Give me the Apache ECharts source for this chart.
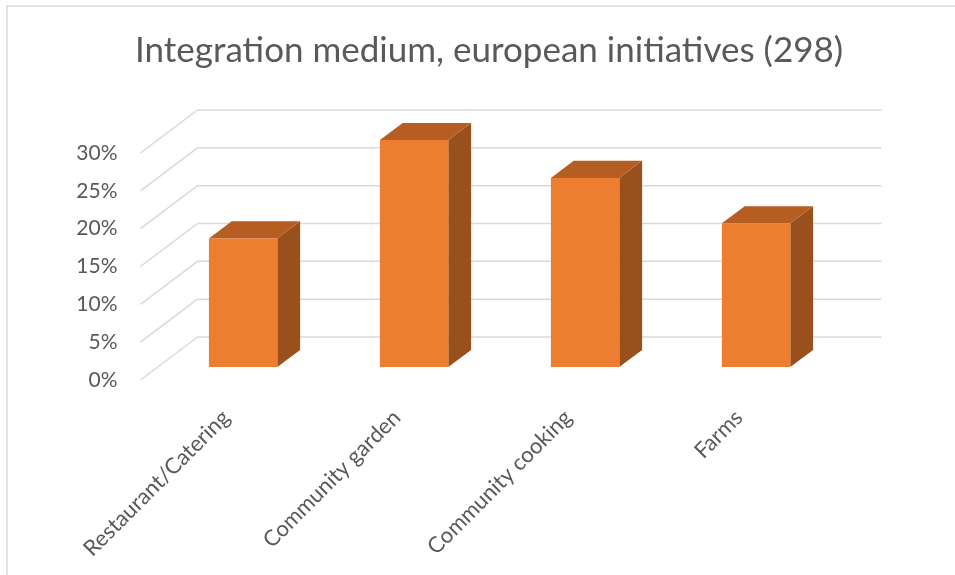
<!DOCTYPE html>
<html><head><meta charset="utf-8">
<script src="https://cdn.jsdelivr.net/npm/echarts@6.0.0/dist/echarts.min.js"></script>
<style>html,body{margin:0;padding:0;background:#fff}#c{width:955px;height:575px}</style>
</head><body><div id="c"></div>
<script>
const titleText = 'Integration medium, european initiatives (298)';
const categories = ['Restaurant/Catering', 'Community garden', 'Community cooking', 'Farms'];
const values = [0.17, 0.30, 0.25, 0.19];
const yTicks = [0, 0.05, 0.10, 0.15, 0.20, 0.25, 0.30];

// oblique projection of depth (back wall offset)
const DX = 57, DY = -43;
const BAR_FRONT = 0.3, BAR_BACK = 0.7, BAR_W = 0.4;
const GRID_COLOR = '#D9D9D9';
const FONT = 'Lato, "Open Sans", sans-serif';

function renderGrid(params, api) {
  const v = api.value(1);
  const p = api.coord([0, v]);
  const band = api.size([1, 0])[0];
  const x0 = p[0] - band / 2;
  const x1 = x0 + band * categories.length;
  const y = p[1];
  return {
    type: 'group',
    children: [
      { type: 'line', shape: { x1: x0, y1: y, x2: x0 + DX, y2: y + DY }, style: { stroke: GRID_COLOR, lineWidth: 1.5 } },
      { type: 'line', shape: { x1: x0 + DX, y1: y + DY, x2: x1 + DX, y2: y + DY }, style: { stroke: GRID_COLOR, lineWidth: 1.5 } }
    ]
  };
}

function renderBar(params, api) {
  const i = api.value(0), v = api.value(1);
  const top = api.coord([i, v]);
  const base = api.coord([i, 0]);
  const band = api.size([1, 0])[0];
  const w = band * BAR_W;
  const xl = top[0] - w / 2, xr = top[0] + w / 2;
  const fx = BAR_FRONT * DX, fy = BAR_FRONT * DY;
  const bx = BAR_BACK * DX, by = BAR_BACK * DY;
  const yt = top[1], yb = base[1];
  return {
    type: 'group',
    children: [
      { type: 'polygon', shape: { points: [[xr + fx, yt + fy], [xr + bx, yt + by], [xr + bx, yb + by], [xr + fx, yb + fy]] }, style: { fill: '#9A501D' } },
      { type: 'polygon', shape: { points: [[xl + fx, yt + fy], [xr + fx, yt + fy], [xr + bx, yt + by], [xl + bx, yt + by]] }, style: { fill: '#B65D22' } },
      { type: 'rect', shape: { x: xl + fx, y: yt + fy, width: w, height: yb - yt }, style: { fill: '#ED7D31' } }
    ]
  };
}

const chart = echarts.init(document.getElementById('c'));
chart.setOption({
  animation: false,
  backgroundColor: '#fff',
  title: {
    text: titleText,
    left: 135,
    top: 33,
    padding: 0,
    textStyle: { fontFamily: FONT, fontSize: 35, fontWeight: 'normal', color: '#595959' }
  },
  graphic: [{
    type: 'rect', shape: { x: 7, y: 6, width: 1200, height: 1000 },
    style: { fill: 'none', stroke: GRID_COLOR, lineWidth: 1.5 }, silent: true
  }],
  grid: { left: 140.5, right: 130.5, top: 153, bottom: 195 },
  xAxis: {
    type: 'category',
    data: categories,
    axisLine: { show: false },
    axisTick: { show: false },
    splitLine: { show: false },
    axisLabel: { rotate: 45, margin: 34, interval: 0, fontFamily: FONT, fontSize: 22, color: '#595959' }
  },
  yAxis: {
    type: 'value',
    min: 0, max: 0.3, interval: 0.05,
    axisLine: { show: false },
    axisTick: { show: false },
    splitLine: { show: false },
    axisLabel: { margin: 23, fontFamily: FONT, fontSize: 21, color: '#595959', formatter: v => Math.round(v * 100) + '%' }
  },
  series: [
    { type: 'custom', renderItem: renderGrid, data: yTicks.map(v => [0, v]), encode: { x: 0, y: 1 }, silent: true, z: 1 },
    { type: 'custom', renderItem: renderBar, data: values.map((v, i) => [i, v]), encode: { x: 0, y: 1 }, z: 2 }
  ]
});
</script>
</body></html>
